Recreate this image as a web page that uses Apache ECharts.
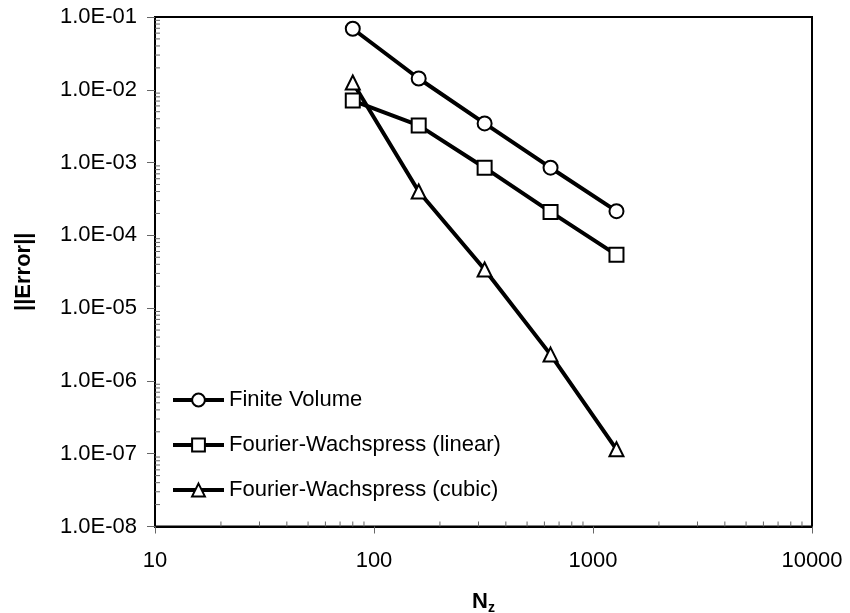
<!DOCTYPE html>
<html>
<head>
<meta charset="utf-8">
<script src="https://cdn.jsdelivr.net/npm/echarts@6/dist/echarts.min.js"></script>
<style>html,body{margin:0;padding:0;background:#fff;}#c{width:850px;height:613px;}</style>
</head>
<body>
<div id="c"></div>
<script>
const nz = [80, 160, 320, 640, 1280];
const finiteVolume = [0.069, 0.0143, 0.00345, 8.5e-4, 2.15e-4];
const fwLinear = [0.0071, 0.00324, 8.5e-4, 2.1e-4, 5.4e-5];
const fwCubic = [0.0126, 4.0e-4, 3.4e-5, 2.3e-6, 1.15e-7];
const seriesNames = ['Finite Volume', 'Fourier-Wachspress (linear)', 'Fourier-Wachspress (cubic)'];
const xMin = 10, xMax = 10000, yMin = 1e-8, yMax = 1e-1;

const FONT = '"Liberation Sans", Arial, sans-serif';

function minorList(lo, hi) {
  const out = [];
  for (let d = lo; d < hi; d *= 10) {
    for (let k = 2; k <= 9; k++) out.push(+(k * d).toPrecision(3));
  }
  return out;
}
const xMinor = minorList(xMin, xMax).map(v => [v, yMin]);
const yMinor = minorList(yMin, yMax).map(v => [xMin, v]);

function fmtY(v) {
  const e = Math.round(Math.log10(v));
  const s = Math.abs(e) < 10 ? '0' + Math.abs(e) : '' + Math.abs(e);
  return '1.0E' + (e < 0 ? '-' : '+') + s;
}
function fmtX(v) {
  return String(Math.round(v));
}

function mk(name, data, symbol) {
  return {
    name: name, type: 'line',
    data: nz.map((x, i) => [x, data[i]]),
    symbol: symbol, symbolSize: 14, showAllSymbol: true,
    lineStyle: { color: '#000', width: 4 },
    itemStyle: { color: '#000', borderColor: '#000', borderWidth: 2 },
    emphasis: { disabled: true },
    z: 3
  };
}

const chart = echarts.init(document.getElementById('c'), null, { renderer: 'canvas' });
chart.setOption({
  animation: false,
  backgroundColor: '#fff',
  textStyle: { fontFamily: FONT },
  grid: { left: 155, right: 38, top: 17, bottom: 86.5, outerBoundsMode: 'none', containLabel: false,
          show: true, borderColor: '#000', borderWidth: 2, backgroundColor: 'transparent' },
  legend: {
    data: seriesNames.map(n => ({ name: n })),
    orient: 'vertical', left: 171, top: 389, padding: 0,
    itemWidth: 51, itemHeight: 16, itemGap: 23,
    lineStyle: { width: 4, color: '#000' },
    itemStyle: { color: '#000', borderColor: '#000', borderWidth: 2 },
    textStyle: { fontSize: 22, color: '#000', fontFamily: FONT, lineHeight: 22 },
    selectedMode: false
  },
  xAxis: {
    type: 'log', logBase: 10, min: xMin, max: xMax, interval: 1,
    name: '{n|N}{z|z}', nameLocation: 'middle', nameGap: 61,
    nameTextStyle: { rich: {
      n: { fontSize: 22, fontWeight: 'bold', color: '#000', fontFamily: FONT },
      z: { fontSize: 14, fontWeight: 'bold', color: '#000', fontFamily: FONT, padding: [14, 0, 0, 0] }
    } },
    axisLine: { lineStyle: { color: '#000', width: 2 } },
    axisTick: { inside: false, length: 7, lineStyle: { color: '#666', width: 1 } },
    axisLabel: { fontSize: 22, color: '#000', margin: 23, fontFamily: FONT, formatter: fmtX },
    splitLine: { show: false }, minorTick: { show: false }
  },
  yAxis: {
    type: 'log', logBase: 10, min: yMin, max: yMax, interval: 1,
    name: '||Error||', nameLocation: 'middle', nameGap: 120, nameRotate: 90,
    nameTextStyle: { fontSize: 22, fontWeight: 'bold', color: '#000', fontFamily: FONT },
    axisLine: { lineStyle: { color: '#000', width: 2 } },
    axisTick: { inside: false, length: 8, lineStyle: { color: '#666', width: 1 } },
    axisLabel: { fontSize: 22, color: '#000', margin: 18, fontFamily: FONT, formatter: fmtY },
    splitLine: { show: false }, minorTick: { show: false }
  },
  tooltip: { show: false },
  series: [
    mk(seriesNames[0], finiteVolume, 'emptyCircle'),
    mk(seriesNames[1], fwLinear, 'emptyRect'),
    mk(seriesNames[2], fwCubic, 'emptyTriangle'),
    {
      type: 'custom', name: 'xminor', data: xMinor, clip: false, silent: true, z: 1,
      renderItem: function (params, api) {
        const p = api.coord([api.value(0), api.value(1)]);
        return { type: 'line', shape: { x1: p[0], y1: p[1], x2: p[0], y2: p[1] - 5 }, style: { stroke: '#666', lineWidth: 1 } };
      }
    },
    {
      type: 'custom', name: 'yminor', data: yMinor, clip: false, silent: true, z: 1,
      renderItem: function (params, api) {
        const p = api.coord([api.value(0), api.value(1)]);
        return { type: 'line', shape: { x1: p[0], y1: p[1], x2: p[0] + 5, y2: p[1] }, style: { stroke: '#666', lineWidth: 1 } };
      }
    }
  ]
});
</script>
</body>
</html>
